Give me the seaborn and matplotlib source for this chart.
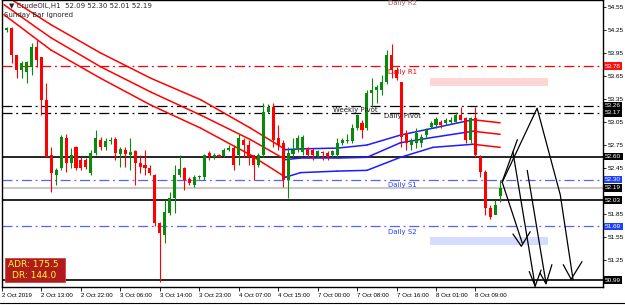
import seaborn as sns
import matplotlib.pyplot as plt
import matplotlib.transforms as mtransforms
from matplotlib.patches import Rectangle
from matplotlib.lines import Line2D
import pandas as pd

# H1 candles, bar index 1..101
opens = [54.25, 54.28, 53.92, 53.73, 53.70, 53.77, 54.03, 53.90, 53.34, 52.62,
         52.36, 52.45, 52.84, 52.52, 52.72, 52.55, 52.55, 52.39, 52.65, 52.82,
         52.72, 52.80, 52.83, 52.63, 52.69, 52.62, 52.67, 52.52, 52.49, 52.45,
         52.36, 51.73, 51.58, 51.86, 52.06, 52.36, 52.45, 52.31, 52.23, 52.33,
         52.33, 52.65, 52.59, 52.62, 52.61, 52.69, 52.71, 52.62, 52.82, 52.75,
         52.62, 52.49, 52.62, 53.18, 53.25, 52.84, 52.78, 52.29, 52.63, 52.69,
         52.66, 52.71, 52.69, 52.61, 52.66, 52.65, 52.62, 52.62, 52.78, 52.80,
         52.80, 52.97, 53.04, 52.97, 53.43, 53.47, 53.47, 53.57, 53.92, 53.73,
         53.57, 52.91, 52.75, 52.78, 52.78, 52.88, 52.99, 53.01, 53.05, 53.04,
         53.05, 53.05, 53.14, 53.10, 52.82, 53.10, 52.59, 52.40, 51.93, 51.84,
         52.09]
highs = [54.29, 54.29, 53.92, 53.84, 53.84, 54.08, 54.12, 53.90, 53.56, 52.72,
         52.45, 52.88, 52.90, 52.71, 52.74, 52.59, 52.58, 52.69, 52.95, 52.85,
         52.84, 52.86, 52.85, 52.72, 52.72, 52.84, 52.68, 52.62, 52.69, 52.49,
         52.37, 51.75, 52.03, 52.14, 52.49, 52.62, 52.46, 52.33, 52.36, 52.36,
         52.63, 52.67, 52.64, 52.63, 52.71, 52.75, 52.75, 52.90, 52.84, 52.82,
         52.62, 52.65, 53.30, 53.29, 53.30, 53.01, 52.82, 52.72, 52.84, 52.88,
         52.88, 52.72, 52.71, 52.69, 52.67, 52.67, 52.69, 52.84, 52.84, 52.90,
         53.02, 53.16, 53.08, 53.47, 53.62, 53.53, 53.66, 53.99, 54.07, 53.77,
         53.57, 52.95, 52.84, 52.97, 52.90, 52.97, 53.06, 53.12, 53.08, 53.10,
         53.12, 53.18, 53.25, 53.12, 53.12, 53.25, 52.62, 52.42, 51.97, 52.03,
         52.30]
lows = [54.22, 53.82, 53.62, 53.62, 53.56, 53.66, 53.77, 53.14, 52.59, 52.14,
        52.23, 52.42, 52.40, 52.45, 52.42, 52.42, 52.44, 52.36, 52.62, 52.69,
        52.69, 52.76, 52.56, 52.46, 52.46, 52.42, 52.23, 52.39, 52.36, 52.36,
        51.70, 50.96, 51.47, 51.84, 51.86, 52.33, 52.17, 52.23, 52.20, 52.31,
        52.30, 52.55, 52.57, 52.59, 52.60, 52.67, 52.42, 52.49, 52.59, 52.49,
        52.29, 52.46, 52.59, 53.17, 52.72, 52.69, 52.20, 52.06, 52.59, 52.66,
        52.62, 52.58, 52.56, 52.58, 52.56, 52.55, 52.59, 52.59, 52.75, 52.78,
        52.78, 52.95, 52.84, 52.95, 53.25, 53.30, 53.40, 53.55, 53.62, 53.60,
        52.72, 52.69, 52.69, 52.71, 52.72, 52.84, 52.97, 52.97, 52.97, 53.01,
        53.02, 53.04, 53.07, 52.78, 52.78, 52.59, 52.33, 51.84, 51.79, 51.88,
        52.01]
closes = [54.28, 53.92, 53.73, 53.82, 53.83, 54.03, 53.86, 53.34, 52.59, 52.39,
          52.42, 52.85, 52.52, 52.62, 52.45, 52.45, 52.46, 52.65, 52.84, 52.72,
          52.80, 52.82, 52.65, 52.70, 52.63, 52.66, 52.52, 52.46, 52.45, 52.39,
          51.73, 51.60, 51.88, 52.06, 52.36, 52.44, 52.29, 52.26, 52.33, 52.34,
          52.62, 52.61, 52.62, 52.60, 52.69, 52.71, 52.49, 52.84, 52.75, 52.59,
          52.49, 52.62, 53.18, 53.25, 52.82, 52.75, 52.29, 52.65, 52.69, 52.84,
          52.85, 52.62, 52.62, 52.67, 52.64, 52.59, 52.67, 52.78, 52.82, 52.82,
          52.97, 53.14, 52.95, 53.43, 53.47, 53.51, 53.57, 53.92, 53.73, 53.62,
          52.85, 52.78, 52.82, 52.91, 52.85, 52.95, 53.04, 53.09, 53.01, 53.08,
          53.08, 53.14, 53.08, 52.82, 53.10, 52.62, 52.40, 51.93, 51.81, 51.97,
          52.19]
bars = list(range(1, len(opens) + 1))

# channel (3 lines), knots in bar index / price; colour flips with slope
band_x = [0.4, 9.9, 20.0, 30.2, 40.3, 50.4, 57.5, 60.5, 68.0, 74.0, 80.8, 87.4, 95.5, 101.0]
band_up = [54.71, 54.32, 53.95, 53.62, 53.34, 52.97, 52.69, 52.70, 52.71, 52.75, 52.88, 52.97, 53.08, 53.04]
band_mid = [54.58, 54.15, 53.77, 53.44, 53.14, 52.82, 52.56, 52.58, 52.58, 52.59, 52.78, 52.85, 52.93, 52.89]
band_low = [54.45, 53.99, 53.62, 53.27, 52.97, 52.62, 52.33, 52.39, 52.41, 52.42, 52.59, 52.72, 52.76, 52.72]
band_dir = ["down", "down", "down", "down", "down", "down", "up", "up", "up", "up", "up", "up", "down"]

# pivot levels
daily_r1 = 53.78
weekly_pivot = 53.26
daily_pivot = 53.17
daily_s1 = 52.30
daily_s2 = 51.69
bid = 52.19
sr_levels = [52.60, 52.03, 50.99]

price_ticks = [54.55, 54.25, 53.95, 53.65, 53.35, 53.05, 52.75, 52.45, 52.15, 51.85, 51.55, 51.25, 50.95]
hidden_ticks = [52.15, 50.95]   # covered by the price tags
time_ticks = [0, 8, 16, 24, 32, 40, 48, 56, 64, 72, 80, 88, 96]
time_labels = ["2 Oct 2019", "2 Oct 13:00", "2 Oct 22:00", "3 Oct 06:00", "3 Oct 14:00",
               "3 Oct 23:00", "4 Oct 07:00", "4 Oct 15:00", "7 Oct 00:00", "7 Oct 08:00",
               "7 Oct 16:00", "8 Oct 01:00", "8 Oct 09:00"]

# hand drawn forecast strokes (bar index, price)
strokes = [
    ([101.4, 108.5, 113.2, 115.8], [52.26, 53.23, 52.10, 50.99]),
    ([113.8, 115.4, 117.6], [51.19, 51.00, 51.23]),
    ([104.5, 101.4, 105.5], [52.82, 52.27, 51.47]),
    ([103.6, 105.3, 107.1], [51.59, 51.43, 51.62]),
    ([103.6, 108.1], [52.66, 50.91]),
    ([106.9, 108.1, 109.3], [51.10, 50.91, 51.12]),
    ([106.5, 110.3], [52.42, 50.95]),
    ([109.1, 110.3, 111.5], [51.08, 50.94, 51.19]),
]
zone_x = (86.8, 110.7)
sell_zone = (53.52, 53.62)
buy_zone = (51.45, 51.55)

sns.set_style("white")
plt.rcParams["font.family"] = ["DejaVu Sans"]
SMALL = ["Liberation Sans", "DejaVu Sans"]

GREEN = "#0a8a0a"
RED = "#ff0000"
BLUE = "#2a3cff"

fig = plt.figure(figsize=(6.25, 3.05), dpi=100)
ax = fig.add_axes([2 / 625, 18 / 305, 601 / 625, 287 / 305])
ax.set_xlim(0.2, 121.86)
ax.set_ylim(50.899, 54.641)

# zones
for lo, hi, col in [(sell_zone[0], sell_zone[1], "#ffd6d6"), (buy_zone[0], buy_zone[1], "#d4dcff")]:
    ax.add_patch(Rectangle((zone_x[0], lo), zone_x[1] - zone_x[0], hi - lo,
                           facecolor=col, edgecolor="none", zorder=0.5))

# levels
dd = (0, (8, 3, 1.5, 3))
ax.axhline(daily_r1, color=RED, lw=0.9, ls=dd, zorder=1)
ax.axhline(weekly_pivot, color="black", lw=0.9, ls=dd, zorder=1)
ax.axhline(daily_pivot, color="black", lw=0.9, ls=dd, zorder=1)
ax.axhline(daily_s1, color=BLUE, lw=0.9, ls=dd, alpha=0.8, zorder=1)
ax.axhline(daily_s2, color=BLUE, lw=0.9, ls=dd, alpha=0.8, zorder=1)
ax.axhline(bid, color="#c8c8c8", lw=1.4, zorder=0.8)
for lv in sr_levels:
    ax.axhline(lv, color="black", lw=1.2, zorder=1)

# channel
for k in range(len(band_dir)):
    col = RED if band_dir[k] == "down" else "#1c1cff"
    for line in (band_up, band_mid, band_low):
        sns.lineplot(x=band_x[k:k + 2], y=line[k:k + 2], color=col, lw=1.1, ax=ax, zorder=2)

# candles
for b, o, h, l, c in zip(bars, opens, highs, lows, closes):
    col = GREEN if c >= o else RED
    ax.vlines(b, l, h, color=col, lw=0.8, zorder=3)
    ax.bar(b, max(abs(c - o), 0.012), bottom=min(o, c), width=0.62, color=col, lw=0, zorder=3)

# strokes
for sx, sy in strokes:
    sns.lineplot(x=sx, y=sy, sort=False, color="black", lw=0.9, ax=ax, zorder=4)

# level texts
ax.text(78.3, 54.60, "Daily R2", fontsize=5, color="#a06060", va="center")
ax.text(78.3, 53.70, "Daily R1", fontsize=5, color=RED, va="center")
ax.text(67.2, 53.21, "Weekly Pivot", fontsize=5, color="#202020", va="center")
ax.text(77.5, 53.13, "Daily Pivot", fontsize=5, color="#202020", va="center")
ax.text(78.3, 52.23, "Daily S1", fontsize=5, color=BLUE, va="center")
ax.text(78.3, 51.62, "Daily S2", fontsize=5, color=BLUE, va="center")

# header
ax.text(0.012, 0.988, "\u25bc CrudeOIL,H1  52.09 52.30 52.01 52.19", transform=ax.transAxes,
        fontsize=5, va="top", ha="left")
ax.text(0.003, 0.958, "Sunday Bar ignored", transform=ax.transAxes, fontsize=5, va="top", ha="left")

# ADR box
ax.add_patch(Rectangle((0.005, 0.018), 0.100, 0.082, transform=ax.transAxes,
                       facecolor="#b01c1c", edgecolor="#d04040", lw=0.6, zorder=5))
ax.text(0.010, 0.079, "ADR: 175.5", transform=ax.transAxes, fontsize=6.5, color="#ffff33",
        va="center", ha="left", zorder=6)
ax.text(0.090, 0.039, "DR: 144.0", transform=ax.transAxes, fontsize=6.5, color="#ffff33",
        va="center", ha="right", zorder=6)

# axes
ax.yaxis.tick_right()
ax.set_yticks(price_ticks)
ax.set_yticklabels(["" if p in hidden_ticks else f"{p:.2f}" for p in price_ticks], family=SMALL)
ax.set_xticks(time_ticks)
ax.set_xticklabels(time_labels, ha="left", family=SMALL)
ax.tick_params(axis="y", labelsize=4.6, length=2.5, width=0.6, pad=1.2, colors="black")
ax.tick_params(axis="x", labelsize=4.4, length=3, width=0.6, pad=1.5, colors="black")
ax.tick_params(axis="y", right=True, left=False)
ax.tick_params(axis="x", bottom=True)
for s in ax.spines.values():
    s.set_color("black")
    s.set_linewidth(1.0)
ax.set_xlabel("")
ax.set_ylabel("")

# boxed price tags on the axis
tr = mtransforms.blended_transform_factory(ax.transAxes, ax.transData)
tags = [(daily_r1, "#ff1010"), (weekly_pivot, "black"), (daily_pivot, "black"),
        (52.60, "black"), (daily_s1, "#2040ff"), (bid, "black"), (52.03, "black"),
        (daily_s2, "#2040ff"), (50.99, "black")]
for p, col in tags:
    ax.text(1.0035, p, f"{p:.2f}", transform=tr, fontsize=4.6, color="white", va="center",
            ha="left", zorder=10, clip_on=False, family=SMALL,
            bbox=dict(boxstyle="square,pad=0.2", fc=col, ec="none"))

# window bottom edge
fig.add_artist(Line2D([0, 1], [2.5 / 305, 2.5 / 305], transform=fig.transFigure,
                      color="black", lw=0.8))

fig.savefig("out.png", dpi=100)
